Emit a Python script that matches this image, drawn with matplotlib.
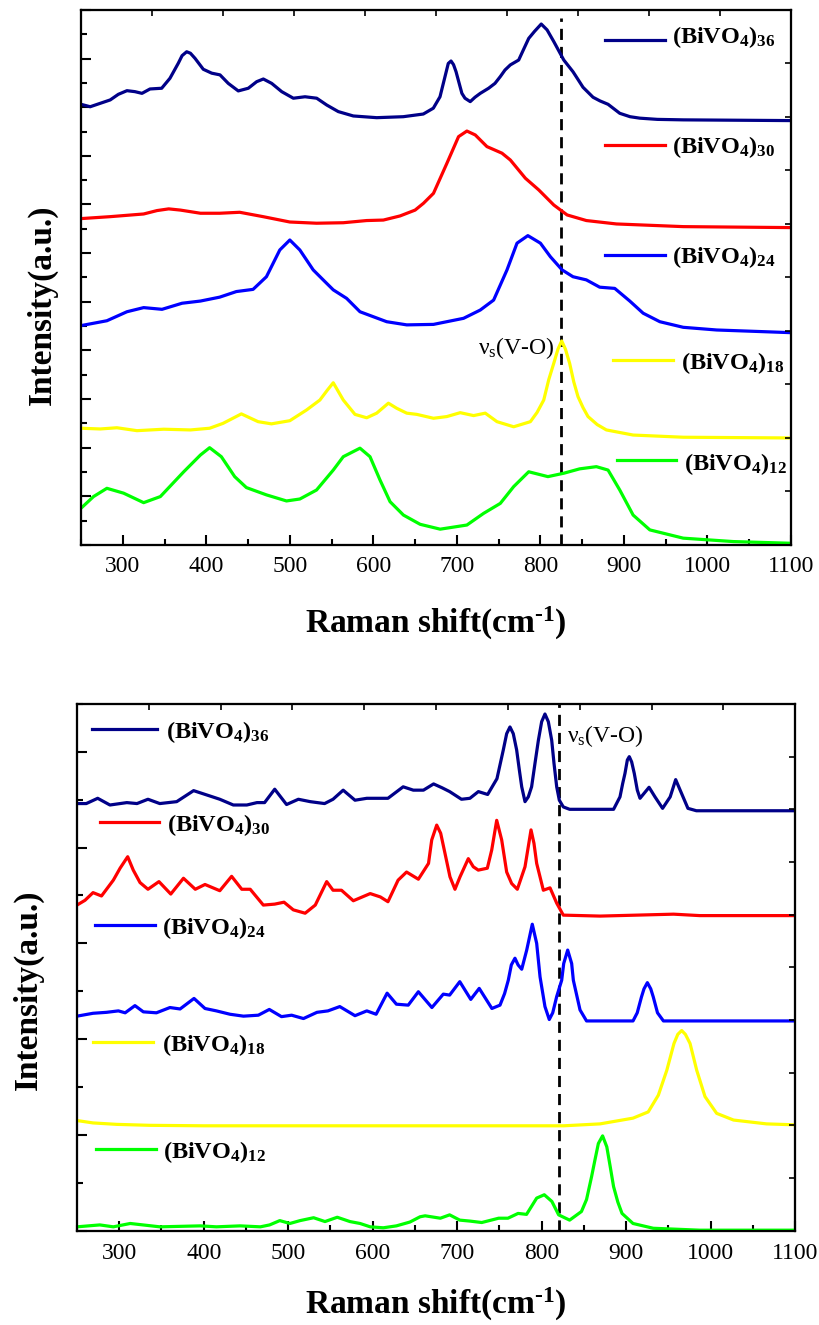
import matplotlib
matplotlib.use("Agg")
import matplotlib.pyplot as plt
from matplotlib.ticker import MultipleLocator

plt.rcParams["font.family"] = ["Liberation Serif", "DejaVu Serif"]
plt.rcParams["mathtext.fontset"] = "custom"
plt.rcParams["mathtext.rm"] = "Liberation Serif:bold"
plt.rcParams["mathtext.it"] = "Liberation Serif:italic"
plt.rcParams["mathtext.bf"] = "Liberation Serif:bold"
plt.rcParams["mathtext.default"] = "regular"

# ---------------- Raman spectra, upper panel ----------------
top_x36 = [250, 261, 285, 294.7, 305, 314.6, 323, 332.6, 346.6, 356.5, 366.5, 371, 376.5, 381,
           386.5, 396.4, 406.5, 416.4, 426.3, 438.3, 450.3, 460.3, 468.3, 478.3, 490.3, 504.2,
           518.2, 532.2, 544.2, 558, 576, 604, 635.8, 659.8, 671.8, 679.8, 685.8, 689.7, 693,
           696, 699, 703, 706, 709.7, 716, 721.7, 728, 738, 745.6, 752, 757.6, 764, 774, 779.5,
           786, 793, 801, 808, 816, 828, 839, 845.4, 851, 863, 871.3, 881, 895, 907.3, 919, 940,
           971, 1100]
top_y36 = [18.12, 18.02, 18.30, 18.53, 18.68, 18.64, 18.57, 18.75, 18.78, 19.19, 19.81, 20.12,
           20.28, 20.22, 20.01, 19.56, 19.40, 19.33, 18.98, 18.67, 18.78, 19.05, 19.16, 18.98,
           18.64, 18.37, 18.43, 18.37, 18.09, 17.82, 17.64, 17.57, 17.61, 17.72, 17.96, 18.43,
           19.26, 19.80, 19.90, 19.75, 19.46, 18.95, 18.57, 18.37, 18.23, 18.41, 18.57, 18.78,
           18.98, 19.26, 19.53, 19.74, 19.94, 20.35, 20.83, 21.12, 21.42, 21.18, 20.70, 19.94,
           19.46, 19.12, 18.82, 18.41, 18.26, 18.12, 17.75, 17.61, 17.55, 17.50, 17.48, 17.45]

top_x30 = [250, 285, 325, 341, 355, 369, 393, 416, 440, 468, 500, 532, 564, 592, 612, 632, 650,
           660, 672, 688, 702, 712, 722, 736, 754, 764, 782, 798, 816, 832, 855, 891, 971, 1100]
top_y30 = [13.42, 13.50, 13.61, 13.75, 13.82, 13.77, 13.64, 13.64, 13.68, 13.50, 13.28, 13.23,
           13.25, 13.34, 13.36, 13.53, 13.77, 14.05, 14.46, 15.69, 16.79, 17.02, 16.86, 16.38,
           16.11, 15.83, 15.08, 14.60, 13.98, 13.57, 13.34, 13.20, 13.09, 13.05]

top_x24 = [250, 281, 305, 325, 347, 371, 393, 416, 436, 456, 472, 488, 500, 512, 528, 542, 552,
           568, 584, 616, 640, 672, 708, 728, 744, 760, 772, 785, 800, 812, 826, 839, 855, 871,
           889, 907, 923, 943, 971, 1011, 1100]
top_y24 = [9.02, 9.22, 9.59, 9.76, 9.69, 9.94, 10.03, 10.19, 10.42, 10.51, 11.03, 12.13, 12.54,
           12.13, 11.31, 10.83, 10.49, 10.14, 9.59, 9.18, 9.05, 9.07, 9.32, 9.66, 10.07, 11.31,
           12.41, 12.72, 12.41, 11.85, 11.31, 11.03, 10.90, 10.60, 10.55, 10.03, 9.53, 9.18,
           8.95, 8.84, 8.73]

top_x18 = [250, 273, 293, 317, 349, 381, 404, 420, 442, 462, 478, 500, 520, 536, 545, 552, 564,
           578, 592, 604, 618, 628, 640, 652, 672, 688, 704, 720, 734, 748, 768, 788, 796, 804,
           810, 816, 821, 825.5, 830, 835, 840, 845, 851, 857, 868, 879, 911, 971, 1100]
top_y18 = [4.80, 4.77, 4.82, 4.70, 4.76, 4.73, 4.80, 5.00, 5.39, 5.07, 4.98, 5.11, 5.55, 5.96,
           6.37, 6.67, 5.96, 5.37, 5.23, 5.42, 5.83, 5.62, 5.42, 5.37, 5.21, 5.28, 5.44, 5.32,
           5.42, 5.07, 4.86, 5.07, 5.45, 5.96, 6.80, 7.47, 8.05, 8.39, 8.05, 7.47, 6.70, 6.10,
           5.65, 5.28, 4.95, 4.73, 4.52, 4.43, 4.40]

top_x12 = [250, 265, 281, 301, 325, 345, 373, 393, 404, 418, 434, 448, 472, 496, 512, 532, 552,
           564, 584, 596, 608, 620, 636, 656, 680, 712, 732, 752, 768, 786, 809, 828, 847, 867,
           881, 895, 911, 931, 971, 1031, 1100]
top_y12 = [1.51, 1.99, 2.33, 2.13, 1.74, 1.99, 3.01, 3.70, 4.00, 3.63, 2.81, 2.36, 2.06, 1.81,
           1.89, 2.26, 3.08, 3.63, 3.98, 3.63, 2.67, 1.78, 1.23, 0.85, 0.65, 0.82, 1.30, 1.71,
           2.40, 3.01, 2.81, 2.95, 3.13, 3.22, 3.08, 2.26, 1.23, 0.62, 0.28, 0.14, 0.07]

# ---------------- Raman spectra, lower panel ----------------
bot_x36 = [250, 261, 274.5, 289, 309, 321, 334, 348, 368, 388, 407, 419, 435, 451, 463, 472, 484,
           498, 512, 526, 543, 553, 565, 579, 593, 605, 618, 636, 648, 660, 672, 682, 691, 705,
           715, 725, 736, 747, 750.5, 754.5, 758.5, 762.4, 766.3, 770.3, 773.5, 776.3, 780.2,
           784.1, 788, 792, 796, 799.9, 803.8, 807.8, 811.8, 814.5, 817.7, 820.8, 825.5, 833,
           885, 892.6, 895.8, 898.5, 901.3, 903.6, 906.4, 909.5, 913.1, 916.3, 927, 934, 943,
           952, 958.5, 965.5, 973, 983, 1100]
bot_y36 = [8.92, 8.92, 9.03, 8.89, 8.94, 8.92, 9.01, 8.92, 8.96, 9.19, 9.08, 9.01, 8.89, 8.89,
           8.94, 8.94, 9.22, 8.90, 9.01, 8.96, 8.92, 9.01, 9.20, 8.99, 9.03, 9.03, 9.03, 9.27,
           9.20, 9.20, 9.33, 9.25, 9.17, 9.01, 9.03, 9.17, 9.11, 9.44, 9.72, 10.04, 10.38, 10.52,
           10.38, 10.04, 9.62, 9.27, 8.96, 9.06, 9.27, 9.76, 10.24, 10.63, 10.79, 10.63, 10.24,
           9.76, 9.27, 8.99, 8.85, 8.80, 8.80, 9.06, 9.34, 9.55, 9.83, 9.90, 9.79, 9.55, 9.20,
           9.03, 9.26, 9.06, 8.82, 9.06, 9.42, 9.13, 8.82, 8.77, 8.77]

bot_x30 = [250, 259.5, 269, 279, 293, 301, 310, 316.6, 324.6, 334, 347, 361, 376, 390, 401.5,
           419, 433, 445, 455, 470.5, 484, 495, 506, 520, 532, 545.5, 553, 563, 577, 597, 609,
           618, 630, 640, 654, 666, 669.8, 675.7, 680.4, 685.5, 691.4, 697.3, 703.3, 713.1, 719,
           724.9, 735.6, 740.8, 746.7, 752.6, 758.5, 764.4, 771.1, 780.2, 787.3, 790.8, 794,
           801.9, 809.8, 817.7, 825.5, 869, 956, 987, 1100]
bot_y30 = [6.80, 6.90, 7.06, 6.99, 7.32, 7.57, 7.81, 7.53, 7.27, 7.13, 7.29, 7.03, 7.36, 7.13,
           7.23, 7.10, 7.40, 7.13, 7.13, 6.80, 6.82, 6.86, 6.70, 6.63, 6.80, 7.29, 7.11, 7.11,
           6.89, 7.04, 6.97, 6.87, 7.32, 7.49, 7.34, 7.67, 8.16, 8.47, 8.30, 7.88, 7.39, 7.13,
           7.39, 7.77, 7.60, 7.53, 7.57, 7.95, 8.57, 8.16, 7.49, 7.25, 7.13, 7.60, 8.37, 8.09,
           7.67, 7.11, 7.16, 6.84, 6.59, 6.57, 6.61, 6.58, 6.58]

bot_x24 = [250, 269, 285, 299, 307, 318.6, 328.5, 344, 360, 372, 388.5, 401.5, 415, 431, 447,
           464.6, 477.6, 492, 504, 518, 534, 547, 561, 579, 593, 604, 617, 628, 642, 654, 670,
           683.5, 691, 703, 716, 726, 741, 750.6, 756, 760.4, 764, 768.3, 772, 776.3, 782.2,
           788.8, 794, 798, 803.8, 808.9, 813, 817.7, 823.6, 826, 830.7, 835.4, 837.4, 845.3,
           853, 908, 913, 918, 921, 925, 929, 932, 937, 944, 1100]
bot_y24 = [4.48, 4.54, 4.56, 4.59, 4.55, 4.70, 4.57, 4.55, 4.66, 4.63, 4.85, 4.64, 4.59, 4.52,
           4.48, 4.50, 4.62, 4.47, 4.50, 4.43, 4.56, 4.59, 4.68, 4.49, 4.59, 4.52, 4.96, 4.73,
           4.71, 4.99, 4.66, 4.94, 4.92, 5.20, 4.83, 5.06, 4.64, 4.71, 4.95, 5.23, 5.55, 5.69,
           5.55, 5.46, 5.86, 6.40, 6.00, 5.30, 4.68, 4.41, 4.55, 4.89, 5.23, 5.58, 5.86, 5.58,
           5.23, 4.61, 4.38, 4.38, 4.55, 4.88, 5.05, 5.18, 5.05, 4.88, 4.55, 4.38, 4.38]

bot_x18 = [250, 269, 297, 336, 400, 826, 869, 908, 926, 938, 948, 956.5, 961, 965.6, 970,
           975.5, 983.4, 993.2, 1007, 1027, 1066, 1100]
bot_y18 = [2.30, 2.25, 2.22, 2.20, 2.19, 2.19, 2.23, 2.35, 2.48, 2.83, 3.35, 3.91, 4.10, 4.18,
           4.10, 3.91, 3.35, 2.80, 2.45, 2.31, 2.23, 2.21]

bot_x12 = [250, 277, 293, 313, 348, 396, 415, 443, 467, 478, 490, 502, 514, 530, 543.5, 558,
           573, 585, 597, 612.5, 628, 644, 656, 662, 680, 691, 703, 715, 729, 749, 760, 772, 782,
           794, 803, 812, 820, 833, 847, 853, 859, 863, 867, 872, 877, 881, 885, 890, 895, 908,
           932, 987, 1100]
bot_y12 = [0.08, 0.12, 0.08, 0.15, 0.08, 0.10, 0.08, 0.10, 0.08, 0.12, 0.21, 0.15, 0.21, 0.27,
           0.19, 0.28, 0.19, 0.15, 0.08, 0.06, 0.10, 0.18, 0.29, 0.31, 0.26, 0.33, 0.22, 0.20,
           0.17, 0.26, 0.26, 0.36, 0.34, 0.68, 0.75, 0.61, 0.33, 0.22, 0.40, 0.65, 1.13, 1.48,
           1.82, 1.98, 1.75, 1.34, 0.92, 0.60, 0.36, 0.15, 0.05, 0.01, 0.01]

sizes = ["36", "30", "24", "18", "12"]
colors = ["#000088", "#FF0000", "#0000FF", "#FFFF00", "#00FF00"]
x_ticks = [300, 400, 500, 600, 700, 800, 900, 1000, 1100]
vo_top = 825   # nu_s(V-O) position, upper panel
vo_bot = 820   # nu_s(V-O) position, lower panel

top_series = [(top_x36, top_y36), (top_x30, top_y30), (top_x24, top_y24),
              (top_x18, top_y18), (top_x12, top_y12)]
bot_series = [(bot_x36, bot_y36), (bot_x30, bot_y30), (bot_x24, bot_y24),
              (bot_x18, bot_y18), (bot_x12, bot_y12)]

# legend placement in axes fractions: (line x0, line x1, line y, text x, text baseline)
top_keys = [(0.738, 0.823, 0.944, 0.832, 0.938),
            (0.738, 0.823, 0.748, 0.832, 0.732),
            (0.738, 0.823, 0.542, 0.832, 0.527),
            (0.749, 0.834, 0.346, 0.845, 0.328),
            (0.755, 0.838, 0.159, 0.849, 0.141)]
bot_keys = [(0.021, 0.111, 0.953, 0.124, 0.936),
            (0.032, 0.114, 0.775, 0.125, 0.758),
            (0.025, 0.109, 0.580, 0.118, 0.563),
            (0.022, 0.106, 0.359, 0.118, 0.342),
            (0.026, 0.110, 0.155, 0.120, 0.137)]

fig = plt.figure(figsize=(8.19, 13.25), dpi=100)
ax1 = fig.add_axes([0.0989, 0.5887, 0.8669, 0.4038])
ax2 = fig.add_axes([0.0940, 0.0712, 0.8770, 0.3975])


def style_axes(ax, ytop, pad):
    ax.set_xlim(250, 1100)
    ax.set_ylim(0, ytop)
    ax.set_xticks(x_ticks)
    ax.xaxis.set_minor_locator(MultipleLocator(50))
    ax.yaxis.set_major_locator(MultipleLocator(2))
    ax.yaxis.set_minor_locator(MultipleLocator(1))
    ax.tick_params(which="both", direction="in", width=1.5, top=False, right=False)
    ax.tick_params(which="major", length=7)
    ax.tick_params(which="minor", length=4)
    ax.tick_params(axis="x", labelsize=17, pad=pad)
    ax.tick_params(axis="y", labelleft=False)
    for s in ax.spines.values():
        s.set_linewidth(1.5)
    # secondary frame ticks on top and right edges
    tx = ax.twiny()
    tx.set_xlim(0, 10)
    tx.set_xticks(range(11))
    tx.tick_params(axis="x", direction="in", length=4, width=1.2, labeltop=False)
    ty = ax.twinx()
    ty.set_ylim(0, 10)
    ty.set_yticks(range(11))
    ty.tick_params(axis="y", direction="in", length=4, width=1.2, labelright=False)
    for t in (tx, ty):
        for s in t.spines.values():
            s.set_linewidth(1.5)


def draw_panel(ax, series, keys):
    for (xs, ys), c, n, k in zip(series, colors, sizes, keys):
        ax.plot(xs, ys, color=c, lw=2.3, solid_joinstyle="round", solid_capstyle="round",
                zorder=3)
        ax.plot([k[0], k[1]], [k[2], k[2]], color=c, lw=2.3, transform=ax.transAxes,
                clip_on=False, zorder=4)
        ax.text(k[3], k[4], "(BiVO$_4$)$_{%s}$" % n, transform=ax.transAxes,
                fontsize=17.5, fontweight="bold", ha="left", va="baseline", zorder=4)


style_axes(ax1, 22, 8)
style_axes(ax2, 11, 9)
draw_panel(ax1, top_series, top_keys)
draw_panel(ax2, bot_series, bot_keys)

ax1.axvline(vo_top, ymin=0, ymax=0.985, color="black", lw=2, ls=(0, (4, 2.5)), zorder=2)
ax2.axvline(vo_bot, ymin=0, ymax=1, color="black", lw=2, ls=(0, (4, 2.5)), zorder=2)

ax1.text(817.5, 7.85, r"$\nu_s$(V-O)", fontsize=17, ha="right", va="baseline")
ax2.text(830, 10.21, r"$\nu_s$(V-O)", fontsize=17, ha="left", va="baseline")

xlabel = r"Raman shift(cm$^{\text{-1}}$)"
fig.text(0.532, 0.5225, xlabel, fontsize=24, fontweight="bold", ha="center", va="baseline")
fig.text(0.532, 0.0085, xlabel, fontsize=24, fontweight="bold", ha="center", va="baseline")
fig.text(0.0513, 0.7698, "Intensity(a.u.)", rotation=90, fontsize=24, fontweight="bold",
         ha="center", va="center")
fig.text(0.0342, 0.2528, "Intensity(a.u.)", rotation=90, fontsize=24, fontweight="bold",
         ha="center", va="center")

fig.savefig("out.png", dpi=100)
